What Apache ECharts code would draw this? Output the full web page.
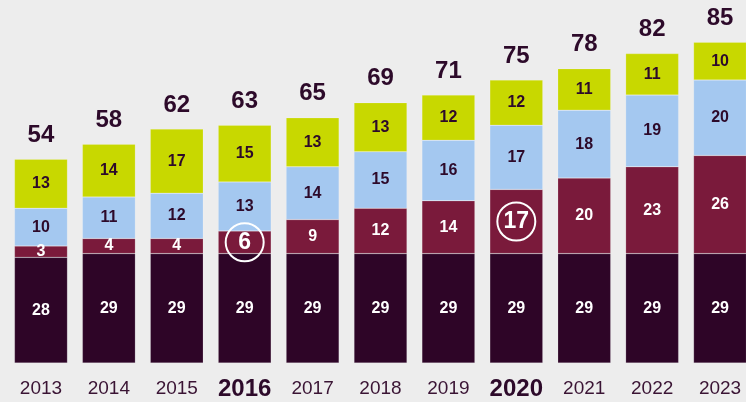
<!DOCTYPE html>
<html><head><meta charset="utf-8">
<script src="https://cdn.jsdelivr.net/npm/echarts@6/dist/echarts.min.js"></script>
<style>html,body{margin:0;padding:0;background:#ededed;}#c{width:746px;height:402px;}</style>
</head><body><div id="c"></div>
<script>
const years = ['2013','2014','2015','2016','2017','2018','2019','2020','2021','2022','2023'];
const base = [28,29,29,29,29,29,29,29,29,29,29];
const second = [3,4,4,6,9,12,14,17,20,23,26];
const third = [10,11,12,13,14,15,16,17,18,19,20];
const fourth = [13,14,17,15,13,13,12,12,11,11,10];
const totals = [54,58,62,63,65,69,71,75,78,82,85];
const highlightYears = ['2016','2020'];

const dark = '#2e0527', maroon = '#7a1a3b', blue = '#a4c8f0', lime = '#c8d800', txt = '#2d0a2a';
const font = 'Liberation Sans, Arial, sans-serif';

function seg(name, data, color, labelColor, circled) {
  return {
    name, type: 'bar', stack: 's', barCategoryGap: '22%',
    itemStyle: { color, borderColor: 'rgba(255,255,255,0.35)', borderWidth: 0.5 },
    label: { show: true, position: 'inside', color: labelColor, fontWeight: 'bold', fontSize: 16, fontFamily: font },
    data: data.map((v, i) => {
      if (circled && highlightYears.includes(years[i])) {
        return { value: v, label: { formatter: '{c|' + v + '}', rich: { c: { width: 38, height: 38, lineHeight: 40, align: 'center', borderColor: '#fff', borderWidth: 2, borderRadius: 20, fontSize: 23, fontWeight: 'bold', color: '#fff', fontFamily: font } } } };
      }
      return v;
    })
  };
}

const chart = echarts.init(document.getElementById('c'));
chart.setOption({
  backgroundColor: '#ededed',
  animation: false,
  grid: { left: 7, width: 747, top: 0, height: 363, outerBoundsMode: 'none', containLabel: false },
  xAxis: {
    type: 'category', data: years,
    axisLine: { show: false }, axisTick: { show: false },
    axisLabel: {
      margin: 15, fontFamily: font,
      formatter: v => highlightYears.includes(v) ? '{b|' + v + '}' : '{n|' + v + '}',
      rich: {
        n: { fontSize: 19, color: '#3a1434', fontFamily: font, lineHeight: 22 },
        b: { fontSize: 24, fontWeight: 'bold', color: '#2d0a2a', fontFamily: font, lineHeight: 22 }
      }
    }
  },
  yAxis: { type: 'value', min: 0, max: 96.2, show: false, splitLine: { show: false } },
  series: [
    seg('base', base, dark, '#fff', false),
    seg('second', second, maroon, '#fff', true),
    seg('third', third, blue, txt, false),
    seg('fourth', fourth, lime, txt, false),
    {
      type: 'scatter', data: totals, symbolSize: 0, silent: true, itemStyle: { opacity: 1, color: txt },
      label: { show: true, position: 'top', distance: 12, color: txt, opacity: 1, fontWeight: 'bold', fontSize: 24, fontFamily: font }
    }
  ]
});
</script></body></html>
